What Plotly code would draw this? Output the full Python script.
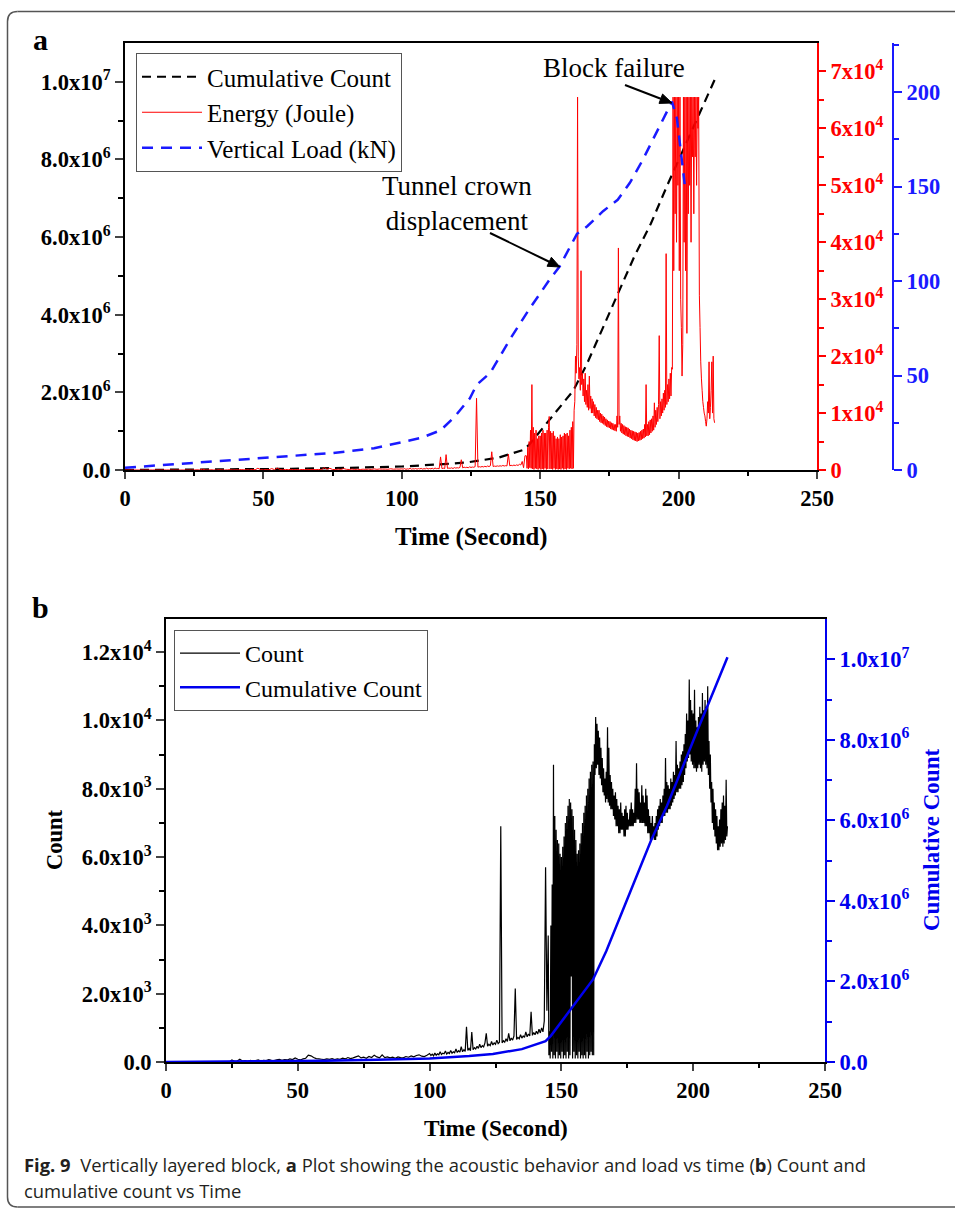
import numpy as np
import plotly.graph_objects as go

W, H = 955, 1209

# ---------------- DATA ----------------
# Cumulative count (shared by both panels)
cum_t = [0, 20, 40, 60, 80, 100, 115, 124, 135, 144, 146, 150, 153, 158, 162, 167, 172, 178, 184, 190, 196, 202, 208, 213]
cum_v = [0, 5e3, 15e3, 30e3, 55e3, 90e3, 150e3, 200e3, 320e3, 520e3, 650e3, 1.0e6, 1.25e6, 1.7e6, 2.05e6,
         2.75e6, 3.55e6, 4.55e6, 5.5e6, 6.35e6, 7.35e6, 8.3e6, 9.25e6, 1.005e7]

# Vertical load (kN)
load_t = [0, 25, 50, 75, 90, 100, 107, 114, 119, 124.6, 127, 132, 139, 146, 153.5, 157, 163.3, 167, 172.7,
          178, 182.4, 187, 192.2, 197.6, 199.4, 202.3]
load_v = [1.2, 3.8, 6.5, 9, 11.5, 14.5, 17, 21, 28, 38, 45, 51.5, 69, 85, 101, 107.7, 125, 129, 137,
          143, 152, 164, 179, 195, 186, 150]

# ---- Energy (Joule) ----
# t = 0..100 every 1 s
energy_quiet = [0] * 25 + [
    0, 30, 0, 150, 20,
    0, 40, 10, 0, 50,
    20, 0, 30, 60, 10,
    40, 20, 80, 30, 50,
    20, 100, 40, 300, 60,
    30, 80, 40, 250, 60,
    350, 80, 40, 100, 60,
    120, 50, 80, 40, 90,
    60, 110, 70, 80, 60,
    100, 50, 400, 120, 300,
    90, 80, 150, 100, 250,
    120, 90, 160, 100, 130,
    90, 140, 110, 150, 100,
    200, 120, 180, 150, 160,
    130, 220, 140, 180, 160,
    200]
# t = 100.5..144.5 every 0.5 s
energy_mid = [
    150, 250, 120, 200, 160, 300, 140, 220, 180, 260,          # 100.5-105
    150, 240, 190, 280, 160, 230, 200, 320, 170, 260,          # 105.5-110
    210, 300, 180, 350, 240, 280, 220, 2300, 260, 320,         # 110.5-115
    250, 2700, 280, 340, 300, 380, 260, 420, 330, 400,         # 115.5-120
    350, 450, 1800, 380, 500, 420, 480, 400, 550, 450,         # 120.5-125
    520, 480, 600, 12600, 500, 580, 520, 620, 540, 650,        # 125.5-130
    560, 700, 600, 750, 3200, 620, 680, 640, 720, 660,         # 130.5-135
    740, 680, 800, 700, 760, 720, 2800, 740, 820, 760,         # 135.5-140
    860, 780, 900, 800, 1000, 880, 1500, 400, 2500]            # 140.5-144.5
# t = 145..213 every 0.25 s
energy_dense = [
    2500, 300, 4000, 200, 5000, 400, 7000, 300,                # 145
    15000, 200, 7500, 100, 6500, 300, 7000, 200,               # 147
    5500, 100, 6000, 300, 6000, 100, 6500, 200,                # 149
    7000, 100, 6500, 300, 6500, 100, 7000, 200,                # 151
    7500, 9400, 200, 6800, 200, 6500, 100, 6800,               # 153
    300, 6000, 100, 5500, 200, 5800, 100, 5500,                # 155
    200, 6200, 100, 5800, 300, 6000, 100, 6500,                # 157
    200, 6300, 100, 6500, 300, 6000, 200, 7000,                # 159
    300, 7500, 200, 8500, 300, 10500, 12000, 20000,            # 161
    17000, 22000, 65500, 20000, 16000, 18000, 14000, 35000,    # 163
    15000, 17000, 13000, 16000, 12000, 17000, 11500, 14000,    # 165
    11000, 15000, 10500, 16500, 10800, 13000, 10000, 12500,    # 167
    10000, 12000, 9500, 11500, 9200, 11000, 9000, 10500,       # 169
    8800, 10500, 8500, 10000, 8300, 9800, 8200, 9500,          # 171
    8000, 9300, 7800, 9000, 7600, 8800, 7500, 8600,            # 173
    7400, 8500, 7200, 8300, 7100, 8200, 7000, 8000,            # 175
    6900, 8000, 6800, 9500, 7500, 39000, 8000, 9500,           # 177
    6800, 8200, 6500, 8000, 6300, 7800, 6200, 7600,            # 179
    6000, 7500, 5900, 7400, 5800, 7200, 5600, 7000,            # 181
    5500, 6900, 5300, 6800, 5200, 6700, 5100, 6600,            # 183
    5000, 6500, 5100, 6600, 5200, 6800, 5300, 7000,            # 185
    5500, 7200, 5600, 8000, 5800, 15000, 6000, 8000,           # 187
    6000, 8500, 6200, 8800, 6500, 9000, 6800, 9500,            # 189
    7000, 11800, 7500, 10500, 8000, 11000, 8500, 11500,        # 191
    23600, 9000, 12000, 9500, 12500, 10000, 13500, 10500,      # 193
    14000, 11000, 38000, 11500, 15000, 12000, 16000, 12500,    # 195
    17000, 13000, 18000, 17700, 65500, 35000, 65500, 45000,    # 197
    65500, 40000, 65500, 50000, 65500, 35000, 65500, 30000,    # 199
    25000, 16500, 22000, 65500, 40000, 65500, 35000, 65500,    # 201
    24000, 65500, 45000, 65500, 50000, 65500, 40000, 65500,    # 203
    55000, 65500, 45000, 65500, 55000, 65500, 50000, 65500,    # 205
    60000, 65500, 30700, 25000, 19000, 16000, 14000, 12000,    # 207
    11000, 10000, 9500, 8500, 7700, 9000, 12000, 10000,        # 209
    19000, 9000, 11000, 14000, 19000, 10000, 20000, 9000,      # 211
    8300]                                                      # 213

# ---- Count ----
# t = 0..100 every 1 s
count_quiet = [0] * 25 + [
    60, 20, 30, 80, 30,
    40, 20, 50, 30, 40,
    60, 30, 50, 40, 70,
    50, 40, 60, 80, 50,
    70, 60, 90, 70, 120,
    80, 60, 90, 110, 200,
    180, 130, 100, 90, 80,
    70, 90, 80, 100, 70,
    90, 80, 110, 90, 130,
    100, 120, 150, 180, 120,
    140, 110, 160, 130, 200,
    150, 120, 210, 130, 150,
    120, 140, 110, 150, 130,
    120, 160, 140, 180, 150,
    190, 210, 170, 160, 200,
    250]
# t = 100.5..144.5 every 0.5 s
count_mid = [
    190, 230, 180, 260, 200, 240, 210, 300, 220, 260,          # 100.5-105
    240, 320, 230, 280, 250, 340, 260, 300, 270, 380,          # 105.5-110
    280, 330, 290, 450, 300, 360, 310, 1030, 340, 400,         # 110.5-115
    330, 880, 360, 420, 380, 460, 400, 520, 420, 480,          # 115.5-120
    440, 560, 840, 460, 520, 480, 600, 500, 560, 520,          # 120.5-125
    640, 540, 580, 6900, 560, 620, 580, 680, 600, 840,         # 125.5-130
    620, 700, 640, 760, 2150, 660, 720, 680, 800, 700,         # 130.5-135
    760, 720, 880, 740, 820, 760, 1470, 780, 860, 800,         # 135.5-140
    900, 820, 960, 850, 1000, 880, 1200, 5700, 1500]           # 140.5-144.5
# t = 145..213 every 0.25 s
count_dense = [
    3700, 200, 900, 100, 4000, 300, 5200, 100,                 # 145
    8700, 200, 7200, 100, 6800, 300, 6500, 100,                # 147
    6400, 200, 6100, 100, 6000, 300, 6300, 100,                # 149
    6600, 200, 7000, 100, 7200, 300, 7500, 100,                # 151
    7700, 200, 7600, 2500, 7400, 100, 7200, 300,               # 153
    6800, 100, 6500, 200, 6100, 100, 6200, 300,                # 155
    6400, 100, 6700, 200, 7000, 100, 7300, 200,                # 157
    7500, 100, 7800, 300, 8000, 100, 8300, 200,                # 159
    8500, 300, 8700, 200, 8800, 200, 9300, 8400,               # 161
    10100, 8600, 9900, 8700, 9700, 8400, 9500, 8300,           # 163
    9200, 8100, 8900, 7900, 8600, 7800, 8300, 7600,            # 165
    8500, 7700, 9800, 7600, 9200, 7500, 8400, 7400,            # 167
    8200, 7400, 8000, 7200, 7800, 7100, 7900, 6900,            # 169
    7700, 6900, 7500, 6700, 7400, 6700, 7600, 6800,            # 171
    7300, 6800, 7200, 6600, 7400, 6600, 7500, 6800,            # 173
    7300, 6800, 7100, 6900, 7400, 6900, 7600, 6900,            # 175
    7400, 6900, 7300, 7000, 8000, 7000, 8750, 7100,            # 177
    8000, 7100, 7900, 7000, 7600, 7000, 8100, 7000,            # 179
    7800, 7000, 7600, 6900, 8000, 6900, 7800, 6700,            # 181
    7400, 6700, 7200, 6500, 7000, 6500, 7200, 6600,            # 183
    6900, 6500, 7000, 6500, 7200, 6600, 7400, 6800,            # 185
    7500, 6900, 7700, 7000, 7600, 7000, 7800, 7200,            # 187
    8000, 7200, 8900, 7300, 8200, 7300, 8100, 7400,            # 189
    8000, 7400, 8300, 7500, 8200, 7600, 8500, 7700,            # 191
    8400, 7800, 9400, 7900, 8700, 7900, 8600, 8000,            # 193
    8800, 8000, 9000, 8100, 9100, 8200, 9300, 8400,            # 195
    9600, 8600, 10200, 8800, 10000, 8900, 11200, 9000,         # 197
    10600, 8800, 10300, 8700, 10200, 8600, 10900, 8600,        # 199
    10000, 8500, 9800, 8600, 10100, 8700, 10400, 8600,         # 201
    10200, 8500, 10800, 8700, 10300, 8800, 10600, 8700,        # 203
    10400, 8600, 11000, 8400, 9400, 8000, 9000, 7600,          # 205
    8200, 7000, 8000, 6800, 7600, 6600, 7400, 6400,            # 207
    7200, 6200, 6900, 6200, 7100, 6300, 7400, 6400,            # 209
    7600, 6300, 7800, 6400, 7500, 6500, 8260, 6600,            # 211
    6900]                                                      # 213

# Tick labels
a_left_vals = [0, 2e6, 4e6, 6e6, 8e6, 1e7]
a_left_text = ["0.0", "2.0x10<sup>6</sup>", "4.0x10<sup>6</sup>", "6.0x10<sup>6</sup>", "8.0x10<sup>6</sup>", "1.0x10<sup>7</sup>"]
a_red_vals = [0, 1e4, 2e4, 3e4, 4e4, 5e4, 6e4, 7e4]
a_red_text = ["0"] + ["%dx10<sup>4</sup>" % i for i in range(1, 8)]
a_blue_vals = [0, 50, 100, 150, 200]
b_left_vals = [0, 2e3, 4e3, 6e3, 8e3, 1e4, 1.2e4]
b_left_text = ["0.0", "2.0x10<sup>3</sup>", "4.0x10<sup>3</sup>", "6.0x10<sup>3</sup>", "8.0x10<sup>3</sup>",
               "1.0x10<sup>4</sup>", "1.2x10<sup>4</sup>"]
b_right_vals = [0, 2e6, 4e6, 6e6, 8e6, 1e7]
b_right_text = ["0.0", "2.0x10<sup>6</sup>", "4.0x10<sup>6</sup>", "6.0x10<sup>6</sup>", "8.0x10<sup>6</sup>", "1.0x10<sup>7</sup>"]
x_vals = [0, 50, 100, 150, 200, 250]

# ---------------- BUILD ----------------
def times(n_quiet, n_mid, n_dense):
    return ([float(i) for i in range(n_quiet)] +
            [100.5 + 0.5 * i for i in range(n_mid)] +
            [145.0 + 0.25 * i for i in range(n_dense)])


energy_t = times(len(energy_quiet), len(energy_mid), len(energy_dense))
energy_v = energy_quiet + energy_mid + energy_dense
count_t = times(len(count_quiet), len(count_mid), len(count_dense))
count_v = count_quiet + count_mid + count_dense

SERIF = "Liberation Serif, Times New Roman, serif"


def px(x):
    return x / W


def py(y):
    return 1 - y / H


fig = go.Figure()
fig.add_trace(go.Scatter(x=cum_t, y=cum_v, xaxis="x", yaxis="y", mode="lines", name="Cumulative Count",
                         line=dict(color="black", width=2.2, dash="9px,6px"), legend="legend"))
fig.add_trace(go.Scatter(x=energy_t, y=energy_v, xaxis="x", yaxis="y2", mode="lines", name="Energy (Joule)",
                         line=dict(color="#ff0000", width=1, simplify=False), legend="legend"))
fig.add_trace(go.Scatter(x=load_t, y=load_v, xaxis="x", yaxis="y3", mode="lines", name="Vertical Load (kN)",
                         line=dict(color="#1a1aff", width=2.5, dash="11px,8px"), legend="legend"))
fig.add_trace(go.Scatter(x=count_t, y=count_v, xaxis="x2", yaxis="y4", mode="lines", name="Count",
                         line=dict(color="black", width=1.2, simplify=False), legend="legend2"))
fig.add_trace(go.Scatter(x=cum_t, y=cum_v, xaxis="x2", yaxis="y5", mode="lines", name="Cumulative Count",
                         line=dict(color="#0000ee", width=2.5), legend="legend2"))

tickfont = dict(family=SERIF, size=22.5, color="black", weight="bold")

common_x = dict(range=[0, 250], tickvals=x_vals, ticks="outside", ticklen=7, tickwidth=2, automargin=False,
                showline=True, linewidth=2, linecolor="black", mirror=True, showgrid=False, zeroline=False,
                tickfont=tickfont,
                minor=dict(tickvals=[25, 75, 125, 175, 225], ticks="outside", ticklen=4, tickwidth=2,
                           tickcolor="black"))

fig.update_layout(
    template="none",
    width=W, height=H, autosize=False,
    margin=dict(l=0, r=0, t=0, b=0, pad=0, autoexpand=False),
    paper_bgcolor="white", plot_bgcolor="white",
    showlegend=True,
    xaxis=dict(domain=[px(125), px(817)], anchor="y", **common_x),
    yaxis=dict(domain=[py(470), py(43)], anchor="x", range=[0, 1.1e7], tickvals=a_left_vals, automargin=False,
               ticktext=a_left_text, ticks="outside", ticklen=8, tickwidth=2, showline=True, linewidth=2,
               linecolor="black", showgrid=False, zeroline=False, tickfont=tickfont,
               minor=dict(tickvals=[1e6, 3e6, 5e6, 7e6, 9e6], ticks="outside", ticklen=5, tickwidth=2,
                          tickcolor="black")),
    yaxis2=dict(overlaying="y", side="right", anchor="x", range=[0, 75000], tickvals=a_red_vals, automargin=False,
                ticktext=a_red_text, ticks="outside", ticklen=7, tickwidth=2, tickcolor="#ff0000",
                showline=True, linewidth=2, linecolor="#ff0000", showgrid=False, zeroline=False,
                tickfont=dict(family=SERIF, size=22.5, color="#ff0000", weight="bold"),
                minor=dict(tickvals=[5e3, 15e3, 25e3, 35e3, 45e3, 55e3, 65e3], ticks="outside", ticklen=5,
                           tickwidth=2, tickcolor="#ff0000")),
    yaxis3=dict(overlaying="y", side="right", anchor="free", position=px(893), range=[0, 226], automargin=False,
                tickvals=a_blue_vals, ticks="outside", ticklen=8, tickwidth=2, tickcolor="#1a1aff",
                showline=True, linewidth=2, linecolor="#1a1aff", showgrid=False, zeroline=False,
                tickfont=dict(family=SERIF, size=22.5, color="#1a1aff", weight="bold"),
                minor=dict(tickvals=[25, 75, 125, 175, 225], ticks="outside", ticklen=5, tickwidth=2,
                           tickcolor="#1a1aff")),
    xaxis2=dict(domain=[px(166), px(825)], anchor="y4", **common_x),
    xaxis3=dict(overlaying="x2", side="top", anchor="y4", range=[0, 250], automargin=False,
                tickvals=[25, 50, 75, 100, 125, 150, 175, 200, 225], ticks="inside", ticklen=5, tickwidth=2,
                tickcolor="black", showticklabels=False, showline=False, showgrid=False, zeroline=False),
    yaxis4=dict(domain=[py(1062), py(619)], anchor="x2", range=[0, 12970], tickvals=b_left_vals, automargin=False,
                ticktext=b_left_text, ticks="outside", ticklen=8, tickwidth=2, showline=True, linewidth=2,
                linecolor="black", showgrid=False, zeroline=False, tickfont=tickfont,
                minor=dict(tickvals=[1e3, 3e3, 5e3, 7e3, 9e3, 11e3], ticks="outside", ticklen=5, tickwidth=2,
                           tickcolor="black")),
    yaxis5=dict(overlaying="y4", side="right", anchor="x2", range=[0, 1.1e7], tickvals=b_right_vals, automargin=False,
                ticktext=b_right_text, ticks="outside", ticklen=8, tickwidth=2, tickcolor="#0000ee",
                showline=True, linewidth=2, linecolor="#0000ee", showgrid=False, zeroline=False,
                tickfont=dict(family=SERIF, size=22.5, color="#0000ee", weight="bold"),
                minor=dict(tickvals=[1e6, 3e6, 5e6, 7e6, 9e6], ticks="outside", ticklen=5, tickwidth=2,
                           tickcolor="#0000ee")),
    legend=dict(x=px(136), y=py(53), xanchor="left", yanchor="top", bgcolor="white",
                bordercolor="#555555", borderwidth=1, font=dict(family=SERIF, size=25, color="black"),
                itemwidth=60, tracegroupgap=0),
    legend2=dict(x=px(174), y=py(630), xanchor="left", yanchor="top", bgcolor="white",
                 bordercolor="#555555", borderwidth=1, font=dict(family=SERIF, size=24, color="black"),
                 itemwidth=60, tracegroupgap=0),
)

ann = []


def text(x, y, s, size=22, bold=False, color="black", angle=0, family=SERIF, xanchor="center"):
    ann.append(dict(x=px(x), y=py(y), xref="paper", yref="paper", text=s, showarrow=False,
                    xanchor=xanchor, yanchor="middle", textangle=angle, align="center",
                    font=dict(family=family, size=size, color=color, weight="bold" if bold else "normal")))


text(40, 40, "a", size=30, bold=True)
text(40, 607, "b", size=30, bold=True)
text(471, 537, "Time (Second)", size=24.7, bold=True)
text(495.5, 1128, "Time (Second)", size=23.3, bold=True)
text(54, 840, "Count", size=22.5, bold=True, angle=-90)
text(931, 840, "Cumulative Count", size=23, bold=True, angle=-90, color="#0000ee")
text(614, 68, "Block failure", size=27)
text(457, 203, "Tunnel crown<br>displacement", size=27)
CAP = "Open Sans, Noto Sans, sans-serif"
text(22, 1164, "<b>Fig. 9</b>  Vertically layered block, <b>a</b> Plot showing the acoustic behavior and load vs time (<b>b</b>) Count and",
     size=18.4, family=CAP, color="#231f20", xanchor="left")
text(22, 1190, "cumulative count vs Time", size=18.4, family=CAP, color="#231f20", xanchor="left")
fig.update_layout(annotations=ann)

# annotation arrows drawn as shapes (shaft + filled head), positions in page pixels
for tip, tail in [((672, 103), (625, 85)), ((560, 267), (490, 233))]:
    dx, dy = tip[0] - tail[0], tip[1] - tail[1]
    n = (dx * dx + dy * dy) ** 0.5
    ux, uy = dx / n, dy / n
    hl, hw = 12.0, 5.0
    bx, by = tip[0] - hl * ux, tip[1] - hl * uy
    fig.add_shape(type="line", x0=px(tail[0]), y0=py(tail[1]), x1=px(bx), y1=py(by), xref="paper", yref="paper",
                  line=dict(color="black", width=2))
    head = (f"M {px(tip[0])},{py(tip[1])} L {px(bx - hw * uy)},{py(by + hw * ux)} "
            f"L {px(bx + hw * uy)},{py(by - hw * ux)} Z")
    fig.add_shape(type="path", path=head, xref="paper", yref="paper", fillcolor="black",
                  line=dict(color="black", width=1))

# rounded border frame (open on the right, as in the source page)
r = 10
x0, y0, y1 = 7.5, 11.5, 1207
frame = dict(color="#555555", width=1.5)
left = (f"M {px(x0 + r)},{py(y0)} Q {px(x0)},{py(y0)} {px(x0)},{py(y0 + r)} "
        f"L {px(x0)},{py(y1 - r)} Q {px(x0)},{py(y1)} {px(x0 + r)},{py(y1)}")
fig.add_shape(type="path", path=left, xref="paper", yref="paper", line=frame)
fig.add_shape(type="line", x0=px(x0 + r), x1=1.0, y0=py(y0), y1=py(y0), xref="paper", yref="paper", line=frame)
fig.add_shape(type="line", x0=px(x0 + r), x1=1.0, y0=py(y1), y1=py(y1), xref="paper", yref="paper", line=frame)

fig.write_html("out.html")
